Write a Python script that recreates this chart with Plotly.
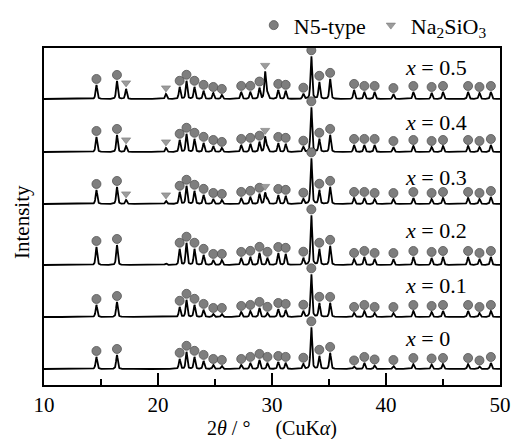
import numpy as np
import plotly.graph_objects as go

# 2-theta grid (degrees, CuK-alpha)
two_theta = np.round(np.arange(10.0, 50.0001, 0.02), 3)

# N5-type reflections (2-theta, deg)
N5_POS = [14.6, 16.4, 21.9, 22.5, 23.2, 24.0, 24.85, 25.6, 27.3, 28.1, 28.9, 29.6,
          30.55, 31.2, 32.75, 33.45, 34.15, 35.1, 37.2, 38.1, 39.0, 40.65, 42.4,
          44.0, 45.0, 47.2, 48.2, 49.2]

# Na2SiO3 reflections (2-theta, deg)
NS_POS = [17.2, 20.7, 29.4]

# Peak heights of the N5-type phase for each composition (arb. units)
N5_X00 = [12, 14, 10, 17, 12, 8, 4, 3, 4, 6, 9, 6, 7, 6, 5, 42, 13, 16, 2.5, 6, 3.5, 3, 5, 4.5, 5, 5, 2.5, 6]
N5_X01 = [12, 15, 10, 17, 12, 7, 3, 3, 5, 6, 9, 4, 8, 7, 6, 43, 14, 14, 4, 6, 4, 4, 6, 5, 6, 6, 4, 6]
N5_X02 = [18, 20, 16, 22, 16, 10, 5, 5, 7, 8, 12, 7, 12, 11, 7, 50, 16, 19, 6, 8, 6, 6, 8, 7, 8, 8, 6, 8]
N5_X03 = [14, 17, 12, 18, 13, 9, 5, 4, 6, 7, 10, 5, 9, 8, 5, 46, 14, 17, 6, 6, 5, 5, 6, 5, 6, 6, 5, 7]
N5_X04 = [15, 17, 12, 18, 13, 9, 6, 4, 7, 8, 10, 5, 9, 8, 5, 45, 13, 17, 7, 7, 7, 5, 6, 5, 6, 6, 5, 7]
N5_X05 = [14, 18, 12, 18, 12, 8, 6, 4, 7, 7, 11, 5, 9, 8, 5, 43, 17, 20, 9, 7, 7, 5, 7, 6, 7, 7, 6, 7]

# Peak heights of Na2SiO3 for each composition (arb. units)
NS_X00 = [0, 0, 0]
NS_X01 = [0, 0, 0]
NS_X02 = [0, 1.5, 0]
NS_X03 = [4, 3, 11]
NS_X04 = [6, 4, 15]
NS_X05 = [10, 5, 27]

# Composition labels and vertical offsets of the stacked patterns
LABELS = ["0", "0.1", "0.2", "0.3", "0.4", "0.5"]
OFFSETS = [16, 68, 120, 181, 233, 286]
N5_SETS = [N5_X00, N5_X01, N5_X02, N5_X03, N5_X04, N5_X05]
NS_SETS = [NS_X00, NS_X01, NS_X02, NS_X03, NS_X04, NS_X05]
LABEL_Y = [47, 100, 155, 208, 263, 318]

FWHM = 0.17
ETA = 0.45


def pseudo_voigt(x, c, h):
    hw = FWHM / 2.0
    lor = 1.0 / (1.0 + ((x - c) / hw) ** 2)
    gau = np.exp(-np.log(2) * ((x - c) / hw) ** 2)
    return h * (ETA * lor + (1 - ETA) * gau)


fig = go.Figure()

circ_x, circ_y, tri_x, tri_y = [], [], [], []

for lab, off, n5, ns in zip(LABELS, OFFSETS, N5_SETS, NS_SETS):
    y = np.full_like(two_theta, float(off))
    for c, h in zip(N5_POS, n5):
        y += pseudo_voigt(two_theta, c, h)
    for c, h in zip(NS_POS, ns):
        if h > 0:
            y += pseudo_voigt(two_theta, c, h)
    fig.add_trace(go.Scatter(x=two_theta, y=y, mode="lines",
                             line=dict(color="black", width=1.8),
                             showlegend=False, hoverinfo="skip"))

    has_ns = ns[2] > 5
    for c in N5_POS:
        if has_ns and c == 29.6:
            continue
        i = int(np.argmin(np.abs(two_theta - c)))
        circ_x.append(c)
        circ_y.append(y[i] + 6)
    if has_ns:
        for c in NS_POS:
            i = int(np.argmin(np.abs(two_theta - c)))
            tri_x.append(c)
            tri_y.append(y[i] + 6)

fig.add_trace(go.Scatter(x=circ_x, y=circ_y, mode="markers", name="N5-type",
                         marker=dict(symbol="circle", size=9, color="#7e7e7e",
                                     line=dict(color="#555555", width=0.8)),
                         hoverinfo="skip"))
fig.add_trace(go.Scatter(x=tri_x, y=tri_y, mode="markers",
                         name="Na<sub>2</sub>SiO<sub>3</sub>",
                         marker=dict(symbol="triangle-down", size=8, color="#9c9c9c",
                                     line=dict(color="#777777", width=0.6)),
                         hoverinfo="skip"))

serif = "Liberation Serif"

for lab, ly in zip(LABELS, LABEL_Y):
    fig.add_annotation(x=41.5, y=ly, xref="x", yref="y", xanchor="left",
                       yanchor="middle", showarrow=False,
                       text="<i>x</i> = " + lab,
                       font=dict(family=serif, size=22, color="black"))

fig.add_annotation(x=-0.048, y=0.484, xref="paper", yref="paper",
                   text="Intensity", textangle=-90, showarrow=False,
                   xanchor="center", yanchor="middle",
                   font=dict(family=serif, size=21, color="black"))
fig.add_annotation(x=0.5, y=-0.13, xref="paper", yref="paper",
                   text="2<i>θ</i> / °     (CuK<i>α</i>)", showarrow=False,
                   xanchor="center", yanchor="middle",
                   font=dict(family=serif, size=20, color="black"))

fig.update_layout(
    width=515, height=439,
    margin=dict(l=44, r=15, t=48, b=54, autoexpand=False),
    paper_bgcolor="white", plot_bgcolor="white",
    font=dict(family=serif, size=21, color="black"),
    legend=dict(orientation="h", x=0.46, y=1.005, xanchor="left", yanchor="bottom",
                bgcolor="rgba(0,0,0,0)", font=dict(family=serif, size=22),
                itemwidth=30, tracegroupgap=0),
    xaxis=dict(range=[10, 50], showgrid=False, zeroline=False, automargin=False,
               showline=True, linecolor="black", linewidth=2, mirror=True,
               ticks="inside", ticklen=12, tickwidth=2, tickcolor="black",
               tickvals=[10, 20, 30, 40, 50], ticktext=["10", "20", "30", "40", "50"],
               tickfont=dict(family=serif, size=21),
               minor=dict(tickvals=[15, 25, 35, 45], ticks="inside", ticklen=6,
                          tickwidth=2, tickcolor="black")),
    yaxis=dict(range=[0, 337], showgrid=False, zeroline=False, automargin=False,
               showline=True, linecolor="black", linewidth=2, mirror=True,
               showticklabels=False, ticks=""),
)

fig.write_html("out.html")
